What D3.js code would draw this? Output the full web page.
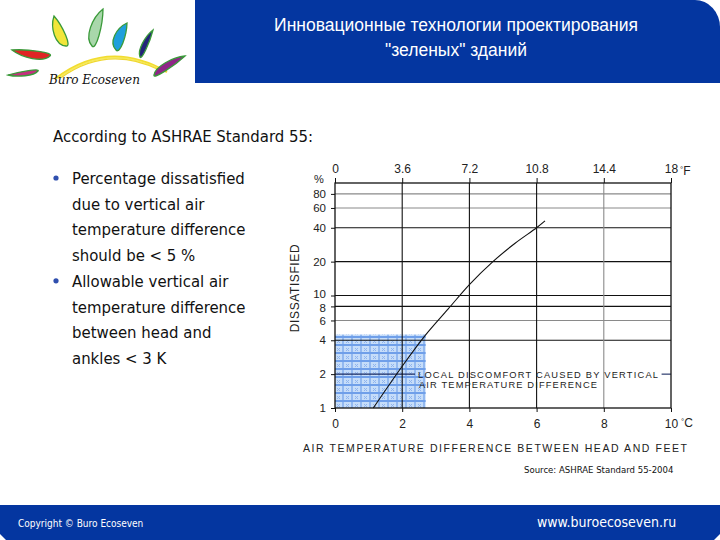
<!DOCTYPE html>
<html>
<head>
<meta charset="utf-8">
<script src="https://cdn.jsdelivr.net/npm/d3@7"></script>
<style>
  html, body { margin: 0; padding: 0; background: #fff; }
  svg { display: block; }
</style>
</head>
<body>
<script>
var width = 720;
var height = 540;

// chart values
var celsiusTicks = [0, 2, 4, 6, 8, 10];
var fahrenheitTicks = [0, 3.6, 7.2, 10.8, 14.4, 18];
var pdTicks = [1, 2, 4, 6, 8, 10, 20, 40, 60, 80];
var curveDT = [1.14, 2.0, 2.68, 3.37, 4.0, 4.7, 5.35, 6.0, 6.25];
var curvePD = [1, 2.35, 4.4, 7.6, 12.5, 20, 29, 40, 46];
var zoneDT = 2.7;   // allowable difference box, °C
var zonePD = 4.5;   // % dissatisfied

var bulletLines = [
  ["Percentage dissatisfied", "due to vertical air", "temperature difference", "should be < 5 %"],
  ["Allowable vertical air", "temperature difference", "between head and", "ankles < 3 K"]
];

var blue = "#0436a0";

var svg = d3.select("body").append("svg").attr("width", width).attr("height", height);

var defs = svg.append("defs");
var pat = defs.append("pattern").attr("id", "hatch").attr("patternUnits", "userSpaceOnUse")
  .attr("width", 9).attr("height", 8);
pat.append("rect").attr("width", 9).attr("height", 8).attr("fill", "#c6ddf9");
pat.append("rect").attr("width", 2).attr("height", 8).attr("fill", "#93b9f0");
pat.append("rect").attr("width", 9).attr("height", 2).attr("fill", "#6f9fe9");
[[4,4],[6,4],[5,5],[4,6],[6,6]].forEach(function(p){
  pat.append("rect").attr("x", p[0]).attr("y", p[1]).attr("width", 1).attr("height", 1).attr("fill", "#8fb4ee");
});

// ---- header band ----
svg.append("path")
  .attr("d", "M195,0 H695 A25,27 0 0 1 720,27 V83 H195 Z")
  .attr("fill", blue);
svg.append("text").attr("x", 456).attr("y", 31).attr("text-anchor", "middle")
  .attr("font-family", "Liberation Sans, Arial, sans-serif").attr("font-size", 17.5)
  .attr("fill", "#fff").text("Инновационные технологии проектирования");
svg.append("text").attr("x", 456).attr("y", 56).attr("text-anchor", "middle")
  .attr("font-family", "Liberation Sans, Arial, sans-serif").attr("font-size", 17.5)
  .attr("fill", "#fff").text("\"зеленых\" зданий");

// ---- logo ----
var logo = svg.append("g");
// p1 = pointed tip, p2 = round end
function leaf(x1, y1, x2, y2, w, fill) {
  var dx = x2 - x1, dy = y2 - y1, len = Math.sqrt(dx * dx + dy * dy);
  var nx = -dy / len, ny = dx / len;
  function pt(t, s) { return (x1 + dx * t + nx * s) + "," + (y1 + dy * t + ny * s); }
  var d = "M" + x1 + "," + y1 +
    " C" + pt(0.3, w * 0.9) + " " + pt(0.85, w * 1.1) + " " + x2 + "," + y2 +
    " C" + pt(1.1, -w * 0.6) + " " + pt(0.4, -w * 0.5) + " " + x1 + "," + y1 + "Z";
  logo.append("path").attr("d", d).attr("fill", fill)
    .attr("stroke", "#3a9a3a").attr("stroke-width", 1.3);
}
// arcs of the sun
[[0, "#f2dc30", 2.2], [3, "#f6ea5a", 1.4], [6, "#f0d830", 1.2]].forEach(function(a){
  var o = a[0];
  logo.append("path")
    .attr("d", "M" + (55 + o) + "," + (79 - o * 0.2) + " Q108," + (38 + o) + " " + (167 - o) + "," + (72 - o * 0.2))
    .attr("fill", "none").attr("stroke", a[1]).attr("stroke-width", a[2]);
});
leaf(12, 50, 50, 56, 7, "#e02424");
leaf(8, 75, 38, 71, 4, "#c4307e");
leaf(54, 16, 66, 46, 9, "#f2e63a");
leaf(103, 9, 92, 46, 9, "#a9d7ab");
leaf(127, 23, 116, 50, 9, "#1e9fdc");
leaf(153, 30, 140, 57, 5, "#23237a");
leaf(185, 56, 154, 75, 6, "#8f2587");
logo.append("text").attr("x", 49).attr("y", 84)
  .attr("font-family", "DejaVu Serif, serif").attr("font-style", "italic")
  .attr("font-size", 12).attr("fill", "#111").text("Buro Ecoseven");

// ---- left text ----
var bodyFont = "DejaVu Sans Condensed, DejaVu Sans, sans-serif";
svg.append("text").attr("x", 53).attr("y", 142)
  .attr("font-family", bodyFont).attr("font-size", 16.6).attr("fill", "#111")
  .text("According to ASHRAE Standard 55:");
var lineY = 184;
bulletLines.forEach(function(group){
  svg.append("circle").attr("cx", 56).attr("cy", lineY - 6).attr("r", 2.6).attr("fill", "#2f4fae");
  group.forEach(function(t){
    svg.append("text").attr("x", 72).attr("y", lineY)
      .attr("font-family", bodyFont).attr("font-size", 16.6).attr("fill", "#111").text(t);
    lineY += 25.7;
  });
});

// ---- chart ----
var chartFont = "Liberation Sans, Arial, sans-serif";
var x = d3.scaleLinear().domain([0, 10]).range([335, 671]);
var xF = d3.scaleLinear().domain([0, 18]).range([335, 671]);
var y = d3.scaleLog().domain([1, 100]).range([408, 183]);

var chart = svg.append("g");

// comfort zone
chart.append("rect")
  .attr("x", x(0)).attr("y", y(zonePD))
  .attr("width", x(zoneDT) - x(0)).attr("height", y(1) - y(zonePD))
  .attr("fill", "url(#hatch)");

// horizontal grid
var greyH = [6, 60, 80];
chart.selectAll(".hgrid").data(pdTicks.filter(function(d){ return d > 1 && d != 2; }))
  .enter().append("line").attr("class", "hgrid")
  .attr("x1", x(0)).attr("x2", x(10))
  .attr("y1", function(d){ return y(d); }).attr("y2", function(d){ return y(d); })
  .attr("stroke", function(d){ return greyH.indexOf(d) >= 0 ? "#8a8a8a" : "#111"; })
  .attr("stroke-width", 1.1);
// the 2 % line is broken by the annotation
[[0, 2.38], [9.72, 10]].forEach(function(s){
  chart.append("line").attr("x1", x(s[0])).attr("x2", x(s[1]))
    .attr("y1", y(2)).attr("y2", y(2)).attr("stroke", "#1a2a60").attr("stroke-width", 1.1);
});

// vertical grid
chart.selectAll(".vgrid").data(celsiusTicks.filter(function(d){ return d > 0 && d < 10; }))
  .enter().append("line").attr("class", "vgrid")
  .attr("x1", function(d){ return x(d); }).attr("x2", function(d){ return x(d); })
  .attr("y1", y(100)).attr("y2", y(1))
  .attr("stroke", function(d){ return d == 8 ? "#8a8a8a" : "#111"; })
  .attr("stroke-width", 1.1);

// frame
chart.append("rect").attr("x", x(0)).attr("y", y(100))
  .attr("width", x(10) - x(0)).attr("height", y(1) - y(100))
  .attr("fill", "none").attr("stroke", "#111").attr("stroke-width", 1.3);

// curve
var line = d3.line()
  .x(function(d, i){ return x(curveDT[i]); })
  .y(function(d, i){ return y(curvePD[i]); })
  .curve(d3.curveCatmullRom);
chart.append("path").attr("d", line(curveDT)).attr("fill", "none")
  .attr("stroke", "#111").attr("stroke-width", 1.1);

// axes
var axisB = d3.axisBottom(x).tickValues(celsiusTicks).tickSize(4).tickPadding(7);
var gB = chart.append("g").attr("transform", "translate(0," + y(1) + ")").call(axisB);
var axisT = d3.axisTop(xF).tickValues(fahrenheitTicks).tickSize(5).tickPadding(4)
  .tickFormat(function(d){ return d; });
var gT = chart.append("g").attr("transform", "translate(0," + y(100) + ")").call(axisT);
var axisL = d3.axisLeft(y).tickValues(pdTicks).tickSize(4).tickPadding(5)
  .tickFormat(function(d){ return d; });
var gL = chart.append("g").attr("transform", "translate(" + x(0) + ",0)").call(axisL);
[gB, gT, gL].forEach(function(g){
  g.select(".domain").remove();
  g.selectAll("line").attr("stroke", "#111");
  g.selectAll("text").attr("font-family", chartFont).attr("font-size", 12).attr("fill", "#222");
});
gT.selectAll("text").attr("dy", "-0.1em");
gL.selectAll("text").attr("font-size", 11.5);
gL.selectAll(".tick").filter(function(d){ return d == 10; }).select("text").attr("dy", "0.2em");
gL.selectAll(".tick").filter(function(d){ return d == 8; }).select("text").attr("dy", "0.42em");

// units
function unit(xp, yp, letter) {
  var t = chart.append("text").attr("x", xp).attr("y", yp)
    .attr("font-family", chartFont).attr("font-size", 12).attr("fill", "#222");
  t.append("tspan").attr("font-size", 8).attr("dy", -3).text("°");
  t.append("tspan").attr("dy", 3).text(letter);
}
unit(x(10) + 10, 427, "C");
unit(xF(18) + 9, 175, "F");
chart.append("text").attr("x", 319).attr("y", 183).attr("text-anchor", "middle")
  .attr("font-family", chartFont).attr("font-size", 11).attr("fill", "#222").text("%");

// axis titles
chart.append("text").attr("transform", "translate(299,288) rotate(-90)")
  .attr("text-anchor", "middle").attr("font-family", chartFont).attr("font-size", 12)
  .attr("letter-spacing", 0.6).attr("fill", "#222").text("DISSATISFIED");
chart.append("text").attr("x", 303).attr("y", 452)
  .attr("font-family", chartFont).attr("font-size", 10.5)
  .attr("textLength", 384).attr("lengthAdjust", "spacing")
  .attr("fill", "#222").text("AIR TEMPERATURE DIFFERENCE BETWEEN HEAD AND FEET");

// annotation
chart.append("text").attr("x", 418).attr("y", 378)
  .attr("font-family", chartFont).attr("font-size", 9.3)
  .attr("textLength", 240).attr("lengthAdjust", "spacing")
  .attr("fill", "#222").text("LOCAL DISCOMFORT CAUSED BY VERTICAL");
chart.append("text").attr("x", 419).attr("y", 388)
  .attr("font-family", chartFont).attr("font-size", 9.3)
  .attr("textLength", 178).attr("lengthAdjust", "spacing")
  .attr("fill", "#222").text("AIR TEMPERATURE DIFFERENCE");

// source
svg.append("text").attr("x", 524).attr("y", 473)
  .attr("font-family", bodyFont).attr("font-size", 9.5).attr("fill", "#111")
  .text("Source: ASHRAE Standard 55-2004");

// ---- footer band ----
svg.append("path")
  .attr("d", "M0,505 H720 V534 L714,540 H6 L0,534 Z")
  .attr("fill", blue);
svg.append("text").attr("x", 18).attr("y", 527)
  .attr("font-family", bodyFont).attr("font-size", 10).attr("fill", "#fff")
  .text("Copyright © Buro Ecoseven");
svg.append("text").attr("x", 537).attr("y", 527)
  .attr("font-family", bodyFont).attr("font-size", 14).attr("fill", "#fff")
  .text("www.buroecoseven.ru");
</script>
</body>
</html>
